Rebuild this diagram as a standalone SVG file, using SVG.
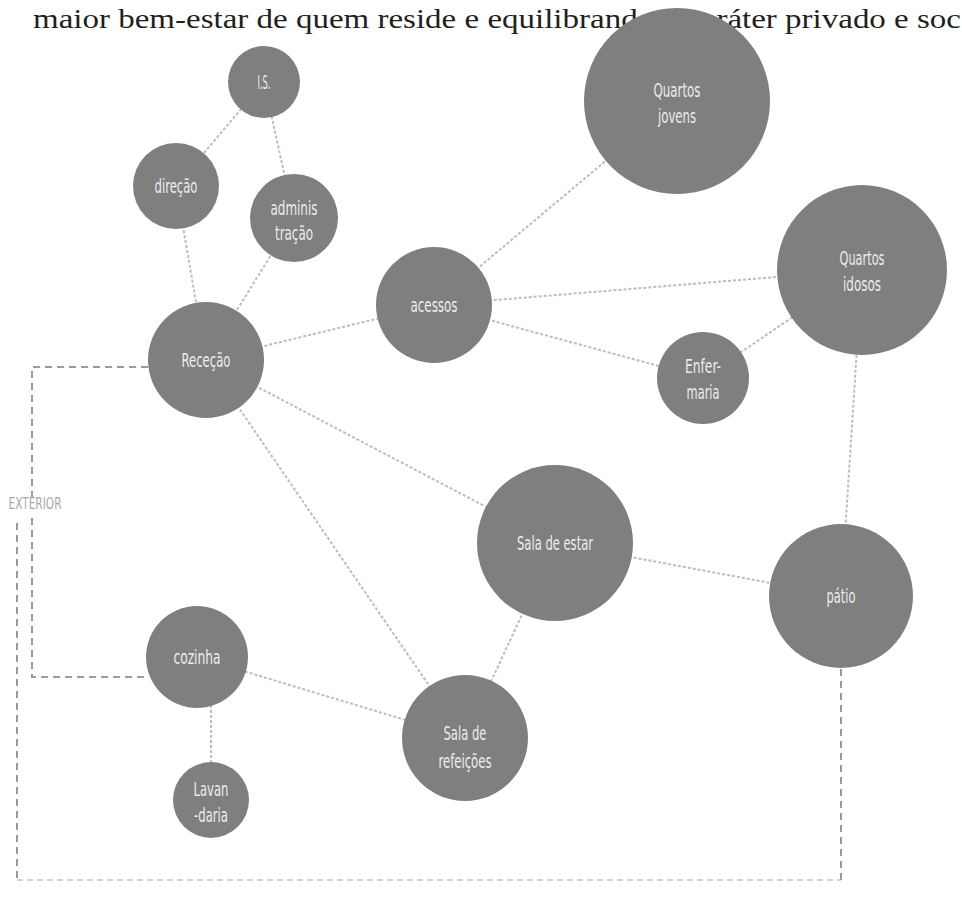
<svg xmlns="http://www.w3.org/2000/svg" width="962" height="910" viewBox="0 0 962 910">
<style>
.n{fill:#7f7f7f}
.t{fill:#ececec;font-family:"DejaVu Sans Condensed","DejaVu Sans",sans-serif;font-stretch:condensed;font-size:20px;text-anchor:middle}
.c{stroke:#bdbdbd;stroke-width:2;stroke-dasharray:3 2;fill:none}
.x{stroke:#999;stroke-width:2;stroke-dasharray:7 5;fill:none}
.xb{stroke:#c4c4c4;stroke-width:1.5;stroke-dasharray:6 4;fill:none}
</style>
<rect width="962" height="910" fill="#fff"/>
<text x="33" y="28" font-family="'Liberation Serif',serif" font-size="28" fill="#231f20" textLength="928" lengthAdjust="spacingAndGlyphs">maior bem-estar de quem reside e equilibrando o caráter privado e soc</text>
<g id="connectors">
<line class="c" x1="264" y1="82" x2="176" y2="186"/>
<line class="c" x1="264" y1="82" x2="294" y2="218"/>
<line class="c" x1="176" y1="186" x2="206" y2="360"/>
<line class="c" x1="294" y1="218" x2="206" y2="360"/>
<line class="c" x1="206" y1="360" x2="434" y2="305"/>
<line class="c" x1="434" y1="305" x2="677" y2="101"/>
<line class="c" x1="434" y1="305" x2="862" y2="270"/>
<line class="c" x1="434" y1="305" x2="703" y2="378"/>
<line class="c" x1="703" y1="378" x2="862" y2="270"/>
<line class="c" x1="862" y1="270" x2="841" y2="596"/>
<line class="c" x1="206" y1="360" x2="555" y2="543"/>
<line class="c" x1="206" y1="360" x2="465" y2="738"/>
<line class="c" x1="555" y1="543" x2="841" y2="596"/>
<line class="c" x1="555" y1="543" x2="465" y2="738"/>
<line class="c" x1="197" y1="657" x2="465" y2="738"/>
<line class="c" x1="211" y1="700" x2="211" y2="780"/>
<path class="x" d="M148,367 H32 V497"/>
<path class="x" d="M32,518 V677 H147"/>
<path class="x" d="M17,523 V880"/>
<path class="xb" d="M17,880 H841"/>
<path class="x" d="M841,880 V668"/>
<text x="35" y="509" font-family="'DejaVu Sans Condensed','DejaVu Sans',sans-serif" font-size="15" fill="#a8a8a8" text-anchor="middle" textLength="53" lengthAdjust="spacingAndGlyphs">EXTERIOR</text>
</g>
<g id="is"><circle class="n" cx="264" cy="82" r="36"/><text class="t" x="264" y="89" textLength="13" lengthAdjust="spacingAndGlyphs">I.S.</text></g>
<g id="direcao"><circle class="n" cx="176" cy="186" r="43"/><text class="t" x="176" y="193" textLength="43" lengthAdjust="spacingAndGlyphs">direção</text></g>
<g id="administracao"><circle class="n" cx="294" cy="218" r="44"/><text class="t" x="294" y="215" textLength="47" lengthAdjust="spacingAndGlyphs">adminis</text><text class="t" x="294" y="240" textLength="38" lengthAdjust="spacingAndGlyphs">tração</text></g>
<g id="quartos-jovens"><circle class="n" cx="677" cy="101" r="93"/><text class="t" x="677" y="97" textLength="47" lengthAdjust="spacingAndGlyphs">Quartos</text><text class="t" x="677" y="123" textLength="38" lengthAdjust="spacingAndGlyphs">jovens</text></g>
<g id="quartos-idosos"><circle class="n" cx="862" cy="270" r="85"/><text class="t" x="862" y="265" textLength="45" lengthAdjust="spacingAndGlyphs">Quartos</text><text class="t" x="862" y="291" textLength="38" lengthAdjust="spacingAndGlyphs">idosos</text></g>
<g id="acessos"><circle class="n" cx="434" cy="305" r="58"/><text class="t" x="434" y="312" textLength="47" lengthAdjust="spacingAndGlyphs">acessos</text></g>
<g id="enfermaria"><circle class="n" cx="703" cy="378" r="46"/><text class="t" x="703" y="373" textLength="36" lengthAdjust="spacingAndGlyphs">Enfer-</text><text class="t" x="703" y="399" textLength="33" lengthAdjust="spacingAndGlyphs">maria</text></g>
<g id="rececao"><circle class="n" cx="206" cy="360" r="58"/><text class="t" x="206" y="367" textLength="49" lengthAdjust="spacingAndGlyphs">Receção</text></g>
<g id="sala-estar"><circle class="n" cx="555" cy="543" r="78"/><text class="t" x="555" y="550" textLength="76" lengthAdjust="spacingAndGlyphs">Sala de estar</text></g>
<g id="patio"><circle class="n" cx="841" cy="596" r="72"/><text class="t" x="841" y="603" textLength="29" lengthAdjust="spacingAndGlyphs">pátio</text></g>
<g id="cozinha"><circle class="n" cx="197" cy="657" r="51"/><text class="t" x="197" y="664" textLength="47" lengthAdjust="spacingAndGlyphs">cozinha</text></g>
<g id="sala-refeicoes"><circle class="n" cx="465" cy="738" r="63"/><text class="t" x="465" y="740" textLength="43" lengthAdjust="spacingAndGlyphs">Sala de</text><text class="t" x="465" y="768" textLength="53" lengthAdjust="spacingAndGlyphs">refeições</text></g>
<g id="lavandaria"><circle class="n" cx="211" cy="800" r="38"/><text class="t" x="211" y="796" textLength="35" lengthAdjust="spacingAndGlyphs">Lavan</text><text class="t" x="211" y="822" textLength="34" lengthAdjust="spacingAndGlyphs">-daria</text></g>
</svg>
